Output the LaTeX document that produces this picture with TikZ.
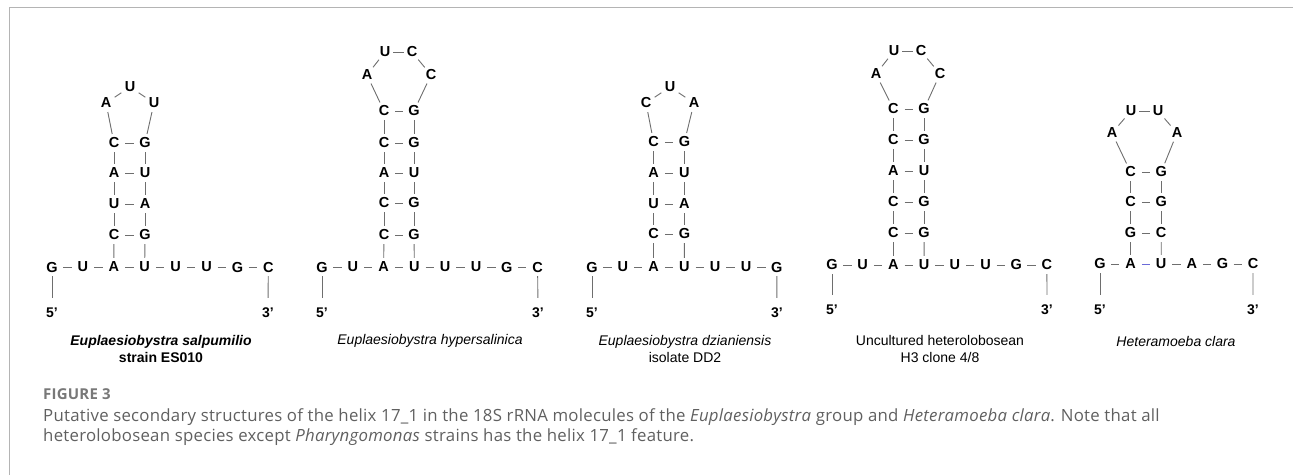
\documentclass[tikz,border=0pt]{standalone}
\usepackage{fontspec}
\setmainfont{Liberation Sans}
\newfontfamily\capfont{Open Sans}[LetterSpace=1.5]
\usetikzlibrary{positioning,shapes.geometric}
\definecolor{bondgray}{HTML}{6E6E6E}
\definecolor{bondblue}{HTML}{6A6AD8}
\definecolor{capgray}{HTML}{606060}
\definecolor{framegray}{HTML}{B4B4B4}

\begin{document}
\begin{tikzpicture}[x=1pt,y=-1pt,
        nt/.style={ellipse,inner sep=0pt,minimum width=22pt,minimum height=18pt,
            font=\fontsize{14.5}{16}\selectfont\bfseries},
        bond/.style={draw=bondgray,line width=0.9pt},
        topbond/.style={bond,shorten <=-3pt,shorten >=-3pt},
        prime/.style={inner xsep=0pt,inner ysep=10pt,font=\fontsize{14}{16}\selectfont\bfseries},
        species/.style={align=center,inner sep=0pt,font=\fontsize{14}{16.5}\selectfont},
        captext/.style={anchor=base west,inner sep=0pt,text=capgray,font=\capfont\fontsize{16.8}{20}\selectfont}]
        \useasboundingbox (0,0) rectangle (1293,475);
        \draw[framegray,line width=1.5pt] (9.5,475) -- (9.5,7.5) -- (1293,7.5);

        % Euplaesiobystra salpumilio
        \foreach \n [count=\i] in {G,U,A,U,U,U,G,C}
            \node[nt] (a\i) at ({52+30.9*(\i-1)},267) {\n};
        \foreach \i [remember=\i as \j (initially 1)] in {2,...,8}
            \draw[bond] (a\j) -- (a\i);
        \foreach \l/\r/\y [count=\k] in {C/G/235,U/A/204,A/U/173,C/G/143} {
            \node[nt] (aL\k) at (114,\y) {\l};
            \node[nt] (aR\k) at (145,\y) {\r};
            \draw[bond] (aL\k) -- (aR\k);
        }
        \draw[bond] (a3) -- (aL1);
        \draw[bond] (a4) -- (aR1);
        \foreach \k [remember=\k as \p (initially 1)] in {2,3,4} {
            \draw[bond] (aL\p) -- (aL\k);
            \draw[bond] (aR\p) -- (aR\k);
        }
        \node[nt] (aP1) at (106,103) {A};
        \node[nt] (aP2) at (130,87) {U};
        \node[nt] (aP3) at (154,103) {U};
        \draw[bond] (aL4) -- (aP1) -- (aP2) -- (aP3) -- (aR4);
        \node[prime] (a5) at (52,313) {5'};
        \node[prime] (a3e) at (268,313) {3'};
        \draw[bond] (a1) -- (a5);
        \draw[bond] (a8) -- (a3e);
        \node[species] (aName) at (161,349)
            {\textbf{\textit{Euplaesiobystra salpumilio}}\\\textbf{strain ES010}};

        % Euplaesiobystra hypersalinica
        \foreach \n [count=\i] in {G,U,A,U,U,U,G,C}
            \node[nt] (b\i) at ({322+30.8*(\i-1)},267) {\n};
        \foreach \i [remember=\i as \j (initially 1)] in {2,...,8}
            \draw[bond] (b\j) -- (b\i);
        \foreach \l/\r/\y [count=\k] in {C/G/235,C/G/203,A/U/173,C/G/143,C/G/111} {
            \node[nt] (bL\k) at (384,\y) {\l};
            \node[nt] (bR\k) at (414,\y) {\r};
            \draw[bond] (bL\k) -- (bR\k);
        }
        \draw[bond] (b3) -- (bL1);
        \draw[bond] (b4) -- (bR1);
        \foreach \k [remember=\k as \p (initially 1)] in {2,...,5} {
            \draw[bond] (bL\p) -- (bL\k);
            \draw[bond] (bR\p) -- (bR\k);
        }
        \node[nt] (bP1) at (367,75) {A};
        \node[nt] (bP2) at (385,52) {U};
        \node[nt] (bP3) at (412,52) {C};
        \node[nt] (bP4) at (431,75) {C};
        \draw[bond] (bL5) -- (bP1) -- (bP2);
        \draw[topbond] (bP2) -- (bP3);
        \draw[bond] (bP3) -- (bP4) -- (bR5);
        \node[prime] (b5) at (322,313) {5'};
        \node[prime] (b3e) at (538,313) {3'};
        \draw[bond] (b1) -- (b5);
        \draw[bond] (b8) -- (b3e);
        \node[species] (bName) at (430,341) {\textit{Euplaesiobystra hypersalinica}};

        % Euplaesiobystra dzianiensis
        \foreach \n [count=\i] in {G,U,A,U,U,U,G}
            \node[nt] (c\i) at ({592+30.8*(\i-1)},267) {\n};
        \foreach \i [remember=\i as \j (initially 1)] in {2,...,7}
            \draw[bond] (c\j) -- (c\i);
        \foreach \l/\r/\y [count=\k] in {C/G/234,U/A/204,A/U/173,C/G/142} {
            \node[nt] (cL\k) at (653.6,\y) {\l};
            \node[nt] (cR\k) at (684.4,\y) {\r};
            \draw[bond] (cL\k) -- (cR\k);
        }
        \draw[bond] (c3) -- (cL1);
        \draw[bond] (c4) -- (cR1);
        \foreach \k [remember=\k as \p (initially 1)] in {2,3,4} {
            \draw[bond] (cL\p) -- (cL\k);
            \draw[bond] (cR\p) -- (cR\k);
        }
        \node[nt] (cP1) at (646,103) {C};
        \node[nt] (cP2) at (670,87) {U};
        \node[nt] (cP3) at (694,103) {A};
        \draw[bond] (cL4) -- (cP1) -- (cP2) -- (cP3) -- (cR4);
        \node[prime] (c5) at (592,313) {5'};
        \node[prime] (c3e) at (777,313) {3'};
        \draw[bond] (c1) -- (c5);
        \draw[bond] (c7) -- (c3e);
        \node[species] (cName) at (685,349)
            {\textit{Euplaesiobystra dzianiensis}\\isolate DD2};

        % Uncultured heterolobosean
        \foreach \n [count=\i] in {G,U,A,U,U,U,G,C}
            \node[nt] (d\i) at ({832+30.7*(\i-1)},265) {\n};
        \foreach \i [remember=\i as \j (initially 1)] in {2,...,8}
            \draw[bond] (d\j) -- (d\i);
        \foreach \l/\r/\y [count=\k] in {C/G/233,C/G/202,A/U/171,C/G/140,C/G/109} {
            \node[nt] (dL\k) at (893.4,\y) {\l};
            \node[nt] (dR\k) at (924.1,\y) {\r};
            \draw[bond] (dL\k) -- (dR\k);
        }
        \draw[bond] (d3) -- (dL1);
        \draw[bond] (d4) -- (dR1);
        \foreach \k [remember=\k as \p (initially 1)] in {2,...,5} {
            \draw[bond] (dL\p) -- (dL\k);
            \draw[bond] (dR\p) -- (dR\k);
        }
        \node[nt] (dP1) at (876,74) {A};
        \node[nt] (dP2) at (894,51) {U};
        \node[nt] (dP3) at (921,51) {C};
        \node[nt] (dP4) at (940,74) {C};
        \draw[bond] (dL5) -- (dP1) -- (dP2);
        \draw[topbond] (dP2) -- (dP3);
        \draw[bond] (dP3) -- (dP4) -- (dR5);
        \node[prime] (d5) at (832,310) {5'};
        \node[prime] (d3e) at (1047,310) {3'};
        \draw[bond] (d1) -- (d5);
        \draw[bond] (d8) -- (d3e);
        \node[species] (dName) at (940,349) {Uncultured heterolobosean\\H3 clone 4/8};

        % Heteramoeba clara
        \foreach \n [count=\i] in {G,A,U,A,G,C}
            \node[nt] (e\i) at ({1100+30.6*(\i-1)},264) {\n};
        \draw[bond] (e1) -- (e2);
        \draw[bond,draw=bondblue] (e2) -- (e3);
        \foreach \i [remember=\i as \j (initially 3)] in {4,5,6}
            \draw[bond] (e\j) -- (e\i);
        \foreach \l/\r/\y [count=\k] in {G/C/233,C/G/202,C/G/172} {
            \node[nt] (eL\k) at (1130.6,\y) {\l};
            \node[nt] (eR\k) at (1161.2,\y) {\r};
            \draw[bond] (eL\k) -- (eR\k);
        }
        \draw[bond] (e2) -- (eL1);
        \draw[bond] (e3) -- (eR1);
        \foreach \k [remember=\k as \p (initially 1)] in {2,3} {
            \draw[bond] (eL\p) -- (eL\k);
            \draw[bond] (eR\p) -- (eR\k);
        }
        \node[nt] (eP1) at (1112,133) {A};
        \node[nt] (eP2) at (1131,111) {U};
        \node[nt] (eP3) at (1158,111) {U};
        \node[nt] (eP4) at (1177,133) {A};
        \draw[bond] (eL3) -- (eP1) -- (eP2);
        \draw[topbond] (eP2) -- (eP3);
        \draw[bond] (eP3) -- (eP4) -- (eR3);
        \node[prime] (e5) at (1100,310) {5'};
        \node[prime] (e3e) at (1253,310) {3'};
        \draw[bond] (e1) -- (e5);
        \draw[bond] (e6) -- (e3e);
        \node[species] (eName) at (1176,341) {\textit{Heteramoeba clara}};

        % caption
        \node[captext,text=capgray!85,font=\capfont\fontsize{15}{18}\selectfont\bfseries] (figno) at (43,399) {FIGURE 3};
        \node[captext] (capA) at (43,421) {Putative secondary structures of the helix 17\_1 in the 18S rRNA molecules of the \textit{Euplaesiobystra} group and \textit{Heteramoeba clara}. Note that all};
        \node[captext] (capB) at (43,441) {heterolobosean species except \textit{Pharyngomonas} strains has the helix 17\_1 feature.};
\end{tikzpicture}
\end{document}
